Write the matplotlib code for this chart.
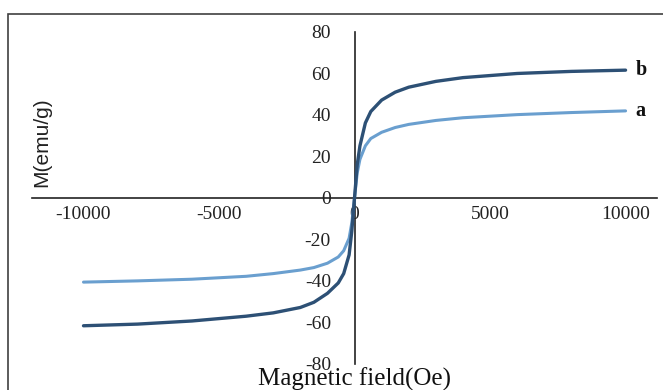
import matplotlib
matplotlib.use("Agg")
import matplotlib.pyplot as plt
from matplotlib.patches import Rectangle

# Data
field = [-10000, -8000, -6000, -4000, -3000, -2000, -1500, -1000, -600, -400, -200, -100,
         0, 100, 200, 400, 600, 1000, 1500, 2000, 3000, 4000, 6000, 8000, 10000]
m_b = [-61.6, -60.8, -59.3, -57.0, -55.4, -52.8, -50.3, -46.0, -41.0, -36.5, -27.5, -16.0,
       0.0, 16.0, 25.0, 36.0, 41.5, 47.0, 50.8, 53.2, 56.0, 57.8, 59.8, 60.8, 61.4]
m_a = [-40.6, -40.0, -39.2, -37.8, -36.5, -34.8, -33.6, -31.5, -28.5, -25.5, -19.5, -12.0,
       0.0, 12.0, 18.5, 25.0, 28.5, 31.5, 33.8, 35.3, 37.2, 38.5, 40.0, 41.0, 41.8]
x_ticks = [-10000, -5000, 0, 5000, 10000]
y_ticks = [-80, -60, -40, -20, 0, 20, 40, 60, 80]
series_labels = ["a", "b"]

W, H = 663, 390
fig = plt.figure(figsize=(W / 100, H / 100), dpi=100)
fig.patch.set_facecolor("white")

# outer frame (cropped at right/bottom in reference)
fig.patches.append(Rectangle((8 / W, -0.1), 1.2, 1 - 14 / H + 0.1, transform=fig.transFigure,
                             fill=False, edgecolor="#404040", linewidth=1.2))

ax = fig.add_axes([32 / W, 1 - 364 / H, (657 - 32) / W, (364 - 31.5) / H])
ax.set_facecolor("none")
ax.set_xlim(-11900, 11160)
ax.set_ylim(-80, 80)

for s in ["top", "right"]:
    ax.spines[s].set_visible(False)
ax.spines["left"].set_position(("data", 0))
ax.spines["bottom"].set_position(("data", 0))
ax.spines["left"].set_color("#222222")
ax.spines["bottom"].set_color("#222222")
ax.spines["left"].set_linewidth(1.2)
ax.spines["bottom"].set_linewidth(1.2)

serif = ["Liberation Serif", "DejaVu Serif"]
ax.set_xticks(x_ticks)
ax.set_xticklabels([str(v) for v in x_ticks], family=serif, fontsize=14, color="#222222")
ax.set_yticks(y_ticks)
ax.set_yticklabels([str(v) for v in y_ticks], family=serif, fontsize=14, color="#222222")
ax.tick_params(axis="x", length=0, pad=6)
ax.tick_params(axis="y", length=0, pad=17)

ax.plot(field, m_a, color="#6a9fcf", linewidth=2.2, solid_capstyle="round", zorder=3)
ax.plot(field, m_b, color="#2d5075", linewidth=2.4, solid_capstyle="round", zorder=4)

ax.annotate(series_labels[1], xy=(field[-1], m_b[-1]), xytext=(7, 0), textcoords="offset points",
            ha="left", va="center", family=serif, fontsize=14.5, fontweight="bold", color="#111111")
ax.annotate(series_labels[0], xy=(field[-1], m_a[-1]), xytext=(7, 0), textcoords="offset points",
            ha="left", va="center", family=serif, fontsize=14.5, fontweight="bold", color="#111111")

fig.text(355 / W, 1 - 379 / H, "Magnetic field(Oe)", ha="center", va="center",
         family=serif, fontsize=18, color="#111111")
fig.text(42 / W, 1 - 142 / H, "M(emu/g)", ha="center", va="center", rotation=90,
         family=["Liberation Sans", "DejaVu Sans"], fontsize=15, color="#222222")

fig.savefig("out.png", dpi=100)
